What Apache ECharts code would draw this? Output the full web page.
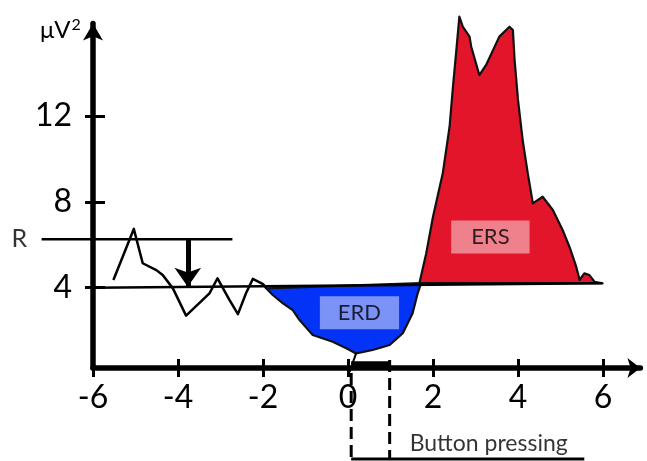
<!DOCTYPE html>
<html>
<head>
<meta charset="utf-8">
<script src="https://cdn.jsdelivr.net/npm/echarts@6/dist/echarts.min.js"></script>
<style>html,body{margin:0;padding:0;background:#fff;}#c{width:647px;height:461px;}</style>
</head>
<body>
<div id="c"></div>
<script>
// ---- data ----
const xTicks = [-6, -4, -2, 0, 2, 4, 6];
const yTicks = [4, 8, 12];
const yUnit = 'μV';
const yUnitSup = '2';

// pre-movement power (black trace)
const preX = [-5.52, -5.04, -4.83, -4.51, -4.36, -4.12, -3.81, -3.42, -3.26, -3.07, -2.79, -2.59, -2.40, -2.24, -2.00, -1.92];
const preY = [4.36, 6.74, 5.14, 4.82, 4.59, 3.97, 2.70, 3.43, 3.74, 4.44, 3.43, 2.77, 3.74, 4.41, 4.17, 3.97];

// ERD (desynchronisation) lower contour
const erdX = [-1.92, -1.77, -1.53, -1.30, -1.14, -0.83, -0.36, -0.04, 0.19, 0.58, 0.98, 1.29, 1.52, 1.64, 1.72];
const erdY = [3.97, 3.66, 3.27, 2.96, 2.49, 1.80, 1.48, 1.18, 0.94, 1.10, 1.33, 1.88, 2.81, 3.74, 4.21];

// ERS (synchronisation) upper contour
const ersX = [1.68, 1.84, 2.00, 2.23, 2.39, 2.47, 2.55, 2.62, 2.70, 2.86, 2.90, 3.09, 3.25, 3.56, 3.80, 3.88, 3.92, 4.00, 4.11, 4.23, 4.35, 4.58, 4.82, 5.05, 5.21, 5.37, 5.45, 5.56, 5.68, 5.80, 5.99];
const ersY = [4.21, 5.60, 7.31, 9.33, 11.50, 13.37, 15.08, 16.63, 16.16, 15.70, 15.23, 13.91, 14.38, 15.70, 16.16, 16.01, 14.61, 12.75, 10.88, 9.33, 7.93, 8.24, 7.62, 6.69, 5.91, 4.98, 4.36, 4.67, 4.59, 4.28, 4.21];

// reference level line
const baseX = [-6.0, 5.99];
const baseY = [4.0, 4.21];

// R level and arrow
const rX = [-7.21, -2.72];
const rY = [6.26, 6.26];
const arrowX = [-3.77, -3.77];
const arrowY = [6.26, 4.05];

// button pressing marker
const btnLeftX = [0.075, 0.075];
const btnLeftY = [0.03, -3.98];
const btnRightX = [0.98, 0.98];
const btnRightY = [0.63, -3.98];
const btnBottomX = [0.075, 5.56];
const btnBottomY = [-3.98, -3.98];
const btnBarX = [0.075, 0.98];
const btnBarY = [0.44, 0.44];
const stemX = [0.19, 0.035];
const stemY = [0.94, 0.07];

// text labels
const erdLabel = {text: 'ERD', x: 0.27, y: 2.83};
const ersLabel = {text: 'ERS', x: 3.35, y: 6.36};
const btnLabel = {text: 'Button pressing', x: 3.31, y: -3.28};
const rLabel = {text: 'R'};

const FONT = 'Lato';

function polygonSeries(xs, ys, fill) {
  return {
    type: 'custom', clip: false, silent: true, z: 3,
    data: [[xs[0], ys[0]]],
    renderItem: function (params, api) {
      const pts = xs.map((x, i) => api.coord([x, ys[i]]));
      return {
        type: 'polygon',
        shape: {points: pts},
        style: {fill: fill, stroke: '#111', lineWidth: 2.2, lineJoin: 'round'}
      };
    }
  };
}

function lineSeries(xs, ys, width, dash, z) {
  return {
    type: 'custom', clip: false, silent: true, z: z || 4,
    data: [[xs[0], ys[0]]],
    renderItem: function (params, api) {
      const pts = xs.map((x, i) => api.coord([x, ys[i]]));
      return {
        type: 'polyline',
        shape: {points: pts},
        style: {fill: null, stroke: '#000', lineWidth: width, lineDash: dash || null,
          lineJoin: 'round', lineCap: 'butt'}
      };
    }
  };
}

function textSeries(lbl, style) {
  return {
    type: 'scatter', clip: false, silent: true, z: 6,
    symbolSize: 1, itemStyle: {color: 'rgba(0,0,0,0)'},
    data: [[lbl.x, lbl.y]],
    label: Object.assign({show: true, position: 'inside', formatter: lbl.text,
      fontFamily: FONT, color: '#000'}, style)
  };
}

const axisCommon = {
  type: 'value', splitLine: {show: false}
};

const chart = echarts.init(document.getElementById('c'), null, {renderer: 'canvas'});
chart.setOption({
  animation: false,
  backgroundColor: '#fff',
  title: {
    text: '{a|' + yUnit + '}{s|' + yUnitSup + '}', left: 35, top: 12,
    textStyle: {
      fontWeight: 'normal',
      rich: {
        a: {fontFamily: FONT, fontSize: 24, fontWeight: 'normal', color: '#000', lineHeight: 25, verticalAlign: 'bottom'},
        s: {fontFamily: FONT, fontSize: 16, fontWeight: 'normal', color: '#000', lineHeight: 25, verticalAlign: 'top', padding: [0, 0, 8, 1]}
      }
    }
  },
  grid: {left: 93, right: 6.6, top: 23.5, bottom: 93, containLabel: false},
  xAxis: [
    Object.assign({}, axisCommon, {
      min: -6, max: 6.88, interval: 2, position: 'bottom',
      axisLine: {show: true, onZero: false, symbol: ['none', 'arrow'], symbolSize: [15, 13],
        lineStyle: {color: '#000', width: 5.5}},
      axisTick: {show: true, length: 9, customValues: xTicks, lineStyle: {color: '#000', width: 3}},
      axisLabel: {show: true, customValues: xTicks, margin: 14, fontFamily: FONT, fontSize: 32, color: '#000'}
    }),
    Object.assign({}, axisCommon, {
      min: -6, max: 6.88, interval: 2, position: 'bottom',
      axisLine: {show: false, onZero: false},
      axisTick: {show: true, inside: true, length: 9, customValues: xTicks, lineStyle: {color: '#000', width: 3}},
      axisLabel: {show: false}
    })
  ],
  yAxis: [
    Object.assign({}, axisCommon, {
      min: 0.26, max: 16.31, position: 'left',
      axisLine: {show: true, onZero: false, symbol: ['none', 'arrow'], symbolSize: [15, 17],
        lineStyle: {color: '#000', width: 5.5}},
      axisTick: {show: true, length: 8, customValues: yTicks, lineStyle: {color: '#000', width: 3}},
      axisLabel: {show: true, customValues: yTicks, margin: 21, fontFamily: FONT, fontSize: 32, color: '#000'}
    }),
    Object.assign({}, axisCommon, {
      min: 0.26, max: 16.31, position: 'left',
      axisLine: {show: false, onZero: false},
      axisTick: {show: true, inside: true, length: 12, customValues: yTicks, lineStyle: {color: '#000', width: 3}},
      axisLabel: {show: false}
    })
  ],
  series: [
    polygonSeries(erdX, erdY, '#0433f8'),
    polygonSeries(ersX, ersY, '#e3152a'),
    lineSeries(preX, preY, 2.5),
    Object.assign(lineSeries(baseX, baseY, 2.5), {
      markLine: {
        silent: true, symbol: ['none', 'arrow'], symbolSize: [20, 19],
        label: {show: false},
        lineStyle: {color: '#000', width: 5, type: 'solid'},
        data: [[{coord: [arrowX[0], arrowY[0]]}, {coord: [arrowX[1], arrowY[1]]}]]
      }
    }),
    lineSeries(rX, rY, 2.5),
    textSeries({text: rLabel.text, x: rX[0], y: rY[0]}, {position: 'left', distance: 14, fontSize: 25}),
    lineSeries(btnLeftX, btnLeftY, 3, [12, 6]),
    lineSeries(btnRightX, btnRightY, 3, [12, 6]),
    lineSeries(btnBottomX, btnBottomY, 3),
    lineSeries(btnBarX, btnBarY, 6),
    lineSeries(stemX, stemY, 2),
    textSeries(erdLabel, {fontSize: 22, lineHeight: 22, backgroundColor: '#9aaaf6', padding: [6, 18, 5, 18]}),
    textSeries(ersLabel, {fontSize: 22, lineHeight: 22, backgroundColor: '#f19ca5', padding: [6, 20, 5, 20]}),
    textSeries(btnLabel, {fontSize: 23})
  ]
});
</script>
</body>
</html>
